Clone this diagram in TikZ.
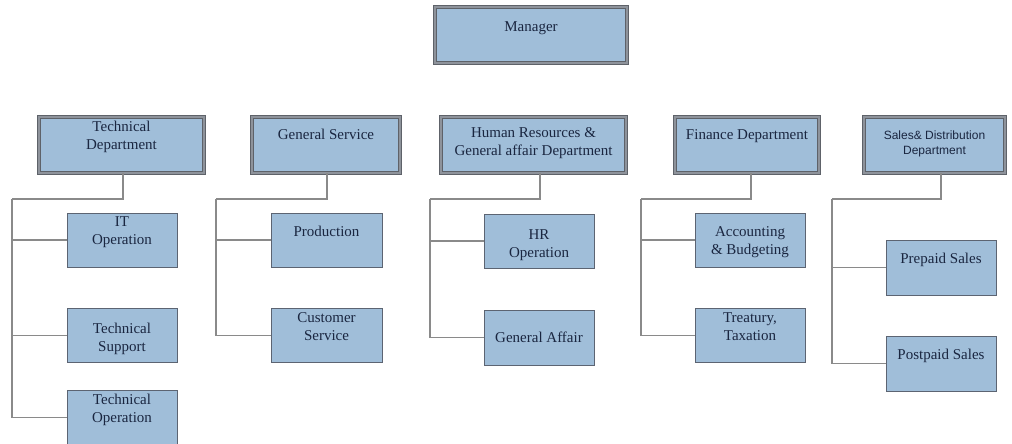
\documentclass[tikz,border=0pt]{standalone}
\usepackage{fontspec}
\setmainfont{Liberation Serif}
\newfontfamily\salesfont{Liberation Sans}
\definecolor{boxfill}{HTML}{A0BED9}
\definecolor{txtcol}{HTML}{1A2640}
\definecolor{topedge}{HTML}{5E6269}
\definecolor{topinner}{HTML}{8E939B}
\definecolor{subedge}{HTML}{5C6472}
\definecolor{linecol}{HTML}{8A8A8A}
\tikzset{
  topbox/.style={draw=topedge, line width=1.1pt, double=topinner, double distance=1.3pt,
    fill=boxfill, inner sep=0pt, outer sep=0pt, minimum height=56pt},
  subbox/.style={draw=subedge, line width=0.8pt, fill=boxfill, inner sep=0pt, outer sep=0pt,
    minimum width=110pt, minimum height=54pt},
  lbl/.style={anchor=north, inner sep=0pt, align=center, text=txtcol,
    font=\fontsize{15}{18}\selectfont},
  slbl/.style={anchor=north, inner sep=0pt, align=center, text=txtcol,
    font=\salesfont\fontsize{12}{14.5}\selectfont},
  conn/.style={draw=linecol, line width=1.2pt}
}
\begin{document}
\begin{tikzpicture}[x=1pt,y=-1pt]
\useasboundingbox[fill=white] (0,0) rectangle (1012,444);
% top
\node[topbox, minimum width=192pt, label={[lbl, label distance=-14pt]north:Manager}] (mgr) at (531,35) {};
% departments
\node[topbox, minimum width=165pt, label={[lbl, label distance=-4pt]north:Technical\\Department}] (tech) at (121.5,145) {};
\node[topbox, minimum width=148pt, label={[lbl, label distance=-12pt]north:General Service}] (gs) at (326,145) {};
\node[topbox, minimum width=185pt, label={[lbl, label distance=-10pt]north:Human Resources \&\\General affair Department}] (hr) at (533.5,145) {};
\node[topbox, minimum width=144pt, label={[lbl, label distance=-12pt]north:Finance Department}] (fin) at (747,145) {};
\node[topbox, minimum width=141pt, label={[slbl, label distance=-14pt]north:Sales\& Distribution\\Department}] (sales) at (934.5,145) {};
% technical children
\node[subbox, label={[lbl, label distance=-3pt]north:IT\\Operation}] (it) at (122,240) {};
\node[subbox, label={[lbl, label distance=-14pt]north:Technical\\Support}] (ts) at (122,335.5) {};
\node[subbox, label={[lbl, label distance=-3pt]north:Technical\\Operation}] (to) at (122,417.5) {};
% general service children
\node[subbox, minimum width=111pt, label={[lbl, label distance=-13pt]north:Production}] (prod) at (326.5,240) {};
\node[subbox, minimum width=111pt, label={[lbl, label distance=-4pt]north:Customer\\Service}] (cs) at (326.5,335.5) {};
% HR children
\node[subbox, label={[lbl, label distance=-15pt]north:HR\\Operation}] (hrop) at (539,241) {};
\node[subbox, minimum height=55pt, label={[lbl, label distance=-22pt]north:General Affair}] (ga) at (539,337.5) {};
% finance children
\node[subbox, label={[lbl, label distance=-13pt]north:Accounting\\\& Budgeting}] (acct) at (750,240) {};
\node[subbox, label={[lbl, label distance=-4pt]north:Treatury,\\Taxation}] (tax) at (750,335.5) {};
% sales children
\node[subbox, minimum height=55pt, label={[lbl, label distance=-13pt]north:Prepaid Sales}] (pre) at (941,267.5) {};
\node[subbox, minimum height=55pt, label={[lbl, label distance=-13pt]north:Postpaid Sales}] (post) at (941,363.5) {};
% trunk corners
\coordinate (t1) at (12,199);
\coordinate (t2) at (216,199);
\coordinate (t3) at (430,199);
\coordinate (t4) at (641,199);
\coordinate (t5) at (832,199);
% connectors
\draw[conn] ([xshift=1.5pt]tech.south) |- (t1);
\draw[conn] (t1) |- (to.west);
\draw[conn] (t1 |- it.west) -- (it.west);
\draw[conn] (t1 |- ts.west) -- (ts.west);
\draw[conn] ([xshift=1pt]gs.south) |- (t2);
\draw[conn] (t2) |- (cs.west);
\draw[conn] (t2 |- prod.west) -- (prod.west);
\draw[conn] ([xshift=6.5pt]hr.south) |- (t3);
\draw[conn] (t3) |- (ga.west);
\draw[conn] (t3 |- hrop.west) -- (hrop.west);
\draw[conn] ([xshift=4pt]fin.south) |- (t4);
\draw[conn] (t4) |- (tax.west);
\draw[conn] (t4 |- acct.west) -- (acct.west);
\draw[conn] ([xshift=6.5pt]sales.south) |- (t5);
\draw[conn] (t5) |- (post.west);
\draw[conn] (t5 |- pre.west) -- (pre.west);
\end{tikzpicture}
\end{document}
